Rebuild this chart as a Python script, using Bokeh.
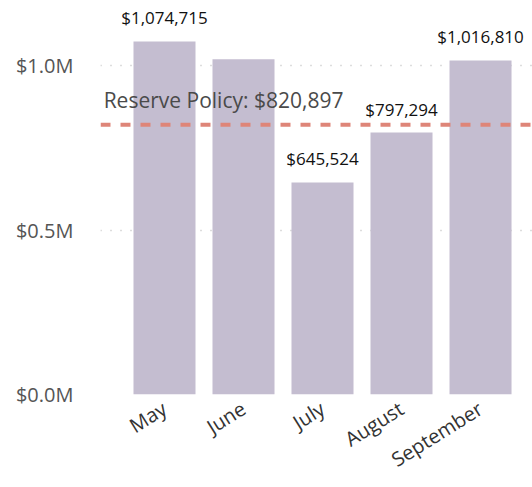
from bokeh.plotting import figure
from bokeh.models import ColumnDataSource, Range1d, FixedTicker, Span, Label
from bokeh.embed import file_html
from bokeh.resources import INLINE
from bokeh.core.properties import value

months = ["May", "June", "July", "August", "September"]
amounts = [1074715, 1020400, 645524, 797294, 1016810]
labels = ["$1,074,715", "", "$645,524", "$797,294", "$1,016,810"]
reserve = 820897
reserve_text = "Reserve Policy: $820,897"
y_ticks = [0, 500000, 1000000]
y_tick_labels = ["$0.0M", "$0.5M", "$1.0M"]

xs = [i + 0.5 for i in range(len(months))]
src = ColumnDataSource(dict(x=xs, top=amounts, label=labels))

p = figure(width=532, height=487, output_backend="svg", toolbar_location=None,
           x_range=Range1d(-0.31, 5.158), y_range=Range1d(0, 1175000),
           min_border_left=100, min_border_right=0, min_border_top=8, min_border_bottom=90)
p.outline_line_color = None
p.background_fill_color = "white"
p.border_fill_color = "white"

p.vbar(x="x", top="top", width=0.785, source=src, color="#C4BDD0", line_color=None)

p.text(x="x", y="top", text="label", source=src, text_align="center", text_baseline="bottom",
       y_offset=-12, text_font=value("Open Sans"), text_font_size="17px", text_color="#111111")

p.add_layout(Span(location=reserve, dimension="width", line_color="#DE8578",
                  line_width=4, line_dash="10 10"))
p.add_layout(Label(x=-0.27, y=reserve, text=reserve_text, y_offset=11,
                   text_baseline="bottom", text_font="Open Sans", text_font_size="21px",
                   text_color="#4a4a4a"))

p.xaxis.ticker = FixedTicker(ticks=xs)
p.xaxis.major_label_overrides = {x: m for x, m in zip(xs, months)}
p.xaxis.major_label_orientation = 0.56
p.yaxis.ticker = FixedTicker(ticks=y_ticks)
p.yaxis.major_label_overrides = {t: l for t, l in zip(y_ticks, y_tick_labels)}

for ax in (p.xaxis, p.yaxis):
    ax.axis_line_color = None
    ax.major_tick_line_color = None
    ax.minor_tick_line_color = None
    ax.major_label_text_font = "Open Sans"
    ax.major_label_text_color = "#555555"
p.yaxis.major_label_text_font_size = "20px"
p.xaxis.major_label_text_color = "#333333"
p.xaxis.major_label_text_font_size = "20px"
p.yaxis.major_label_standoff = 21
p.xaxis.major_label_standoff = 6

p.xgrid.grid_line_color = None
p.ygrid.ticker = FixedTicker(ticks=y_ticks)
p.ygrid.grid_line_color = "#BBBBBB"
p.ygrid.grid_line_dash = "1 9"
p.ygrid.grid_line_width = 1.5

open("out.html", "w").write(file_html(p, INLINE))
